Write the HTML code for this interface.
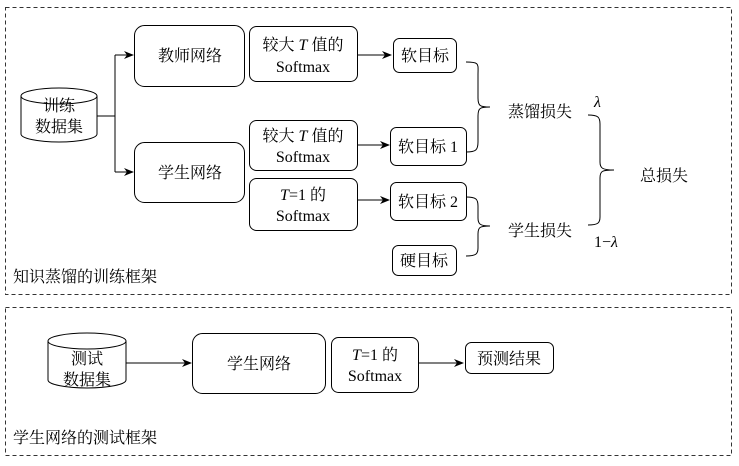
<!DOCTYPE html>
<html><head><meta charset="utf-8"><style>
body{margin:0;background:#fff}
svg text{font-family:"Liberation Serif","Noto Serif CJK SC","Noto Sans CJK SC",serif;font-size:16px;fill:#000}
</style></head><body>
<svg width="739" height="461" viewBox="0 0 739 461" xmlns="http://www.w3.org/2000/svg">
<defs><marker id="a" markerWidth="10" markerHeight="8" refX="9" refY="4" orient="auto" markerUnits="userSpaceOnUse"><path d="M0,0 L10,4 L0,8 L3,4z" fill="#000"/></marker></defs>
<g fill="none" stroke="#000" stroke-width="1">
<rect x="5.5" y="7.5" width="726" height="287" stroke-dasharray="4,3" stroke="#333"/>
<rect x="5.5" y="307.5" width="726" height="148" stroke-dasharray="4,3" stroke="#333"/>
<path d="M21,96 L21,134 A38,8 0 0 0 97,134 L97,96"/>
<ellipse cx="59" cy="96" rx="38" ry="8"/>
<path d="M97,116 H115 M115,55 V172" />
<path d="M115,55 H133" marker-end="url(#a)"/>
<path d="M115,172 H133" marker-end="url(#a)"/>
<rect x="134.5" y="25.5" width="110" height="61" rx="10"/>
<rect x="134.5" y="142.5" width="110" height="60" rx="10"/>
<rect x="249.5" y="26.5" width="108" height="55" rx="7"/>
<rect x="249.5" y="120.5" width="108" height="50" rx="7"/>
<rect x="249.5" y="178.5" width="108" height="52" rx="7"/>
<path d="M357,55 H391" marker-end="url(#a)"/>
<path d="M357,145 H389" marker-end="url(#a)"/>
<path d="M357,200 H389" marker-end="url(#a)"/>
<rect x="393.5" y="38.5" width="63" height="34" rx="6"/>
<rect x="390.5" y="127.5" width="76" height="38" rx="6"/>
<rect x="390.5" y="182.5" width="76" height="38" rx="6"/>
<rect x="392.5" y="245.5" width="64" height="30" rx="6"/>
<path d="M466,62 C480,62 478,64 478,75 V98 C478,106 480,107 490,107 C480,107 478,108 478,116 V142 C478,150 476,152 466,152"/>
<path d="M466,197 C476,197 478,199 478,206 V218 C478,224 480,226 490,226 C480,226 478,227 478,234 V248 C478,254 476,256 466,256"/>
<path d="M588,115 C598,115 600,117 600,124 V162 C600,168 602,170 614,170 C602,170 600,171 600,178 V217 C600,223 598,225 588,225"/>
<path d="M48,341 L48,380 A39,8 0 0 0 126,380 L126,341"/>
<ellipse cx="87" cy="341" rx="39" ry="8"/>
<path d="M126,363 H191" marker-end="url(#a)"/>
<rect x="192.5" y="333.5" width="133" height="60" rx="10"/>
<rect x="331.5" y="337.5" width="87" height="55" rx="7"/>
<path d="M418,363 H463" marker-end="url(#a)"/>
<rect x="465.5" y="342.5" width="88" height="31" rx="6"/>
</g>
<text x="59" y="111" text-anchor="middle">训练</text>
<text x="59" y="132" text-anchor="middle">数据集</text>
<text x="190" y="61" text-anchor="middle">教师网络</text>
<text x="190" y="178" text-anchor="middle">学生网络</text>
<text x="303" y="50" text-anchor="middle">较大 <tspan font-style="italic">T</tspan> 值的</text>
<text x="303" y="72" text-anchor="middle">Softmax</text>
<text x="303" y="141" text-anchor="middle">较大 <tspan font-style="italic">T</tspan> 值的</text>
<text x="303" y="162" text-anchor="middle">Softmax</text>
<text x="303" y="200" text-anchor="middle"><tspan font-style="italic">T</tspan>=1 的</text>
<text x="303" y="221" text-anchor="middle">Softmax</text>
<text x="425" y="61" text-anchor="middle">软目标</text>
<text x="428" y="152" text-anchor="middle">软目标 1</text>
<text x="428" y="207" text-anchor="middle">软目标 2</text>
<text x="424" y="266" text-anchor="middle">硬目标</text>
<text x="508" y="117">蒸馏损失</text>
<text x="594" y="107" font-style="italic" font-size="14">λ</text>
<text x="508" y="236">学生损失</text>
<text x="594" y="247" font-size="14">1−<tspan font-style="italic">λ</tspan></text>
<text x="640" y="181">总损失</text>
<text x="13" y="282">知识蒸馏的训练框架</text>
<text x="87" y="364" text-anchor="middle">测试</text>
<text x="87" y="385" text-anchor="middle">数据集</text>
<text x="259" y="369" text-anchor="middle">学生网络</text>
<text x="375" y="360" text-anchor="middle"><tspan font-style="italic">T</tspan>=1 的</text>
<text x="375" y="381" text-anchor="middle">Softmax</text>
<text x="509" y="364" text-anchor="middle">预测结果</text>
<text x="13" y="443">学生网络的测试框架</text>
</svg>
</body></html>
